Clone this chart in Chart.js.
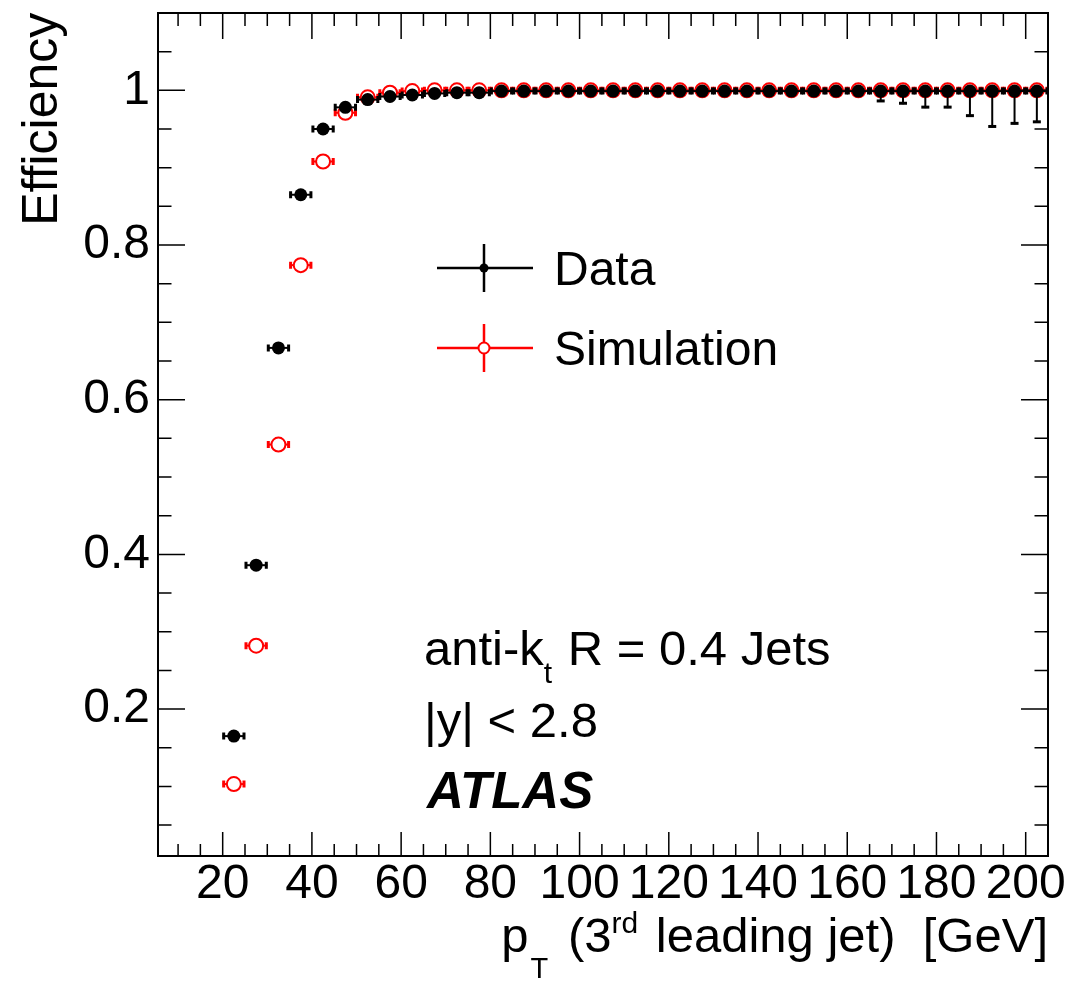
<!DOCTYPE html>
<html>
<head>
<meta charset="utf-8">
<script src="https://cdn.jsdelivr.net/npm/chart.js@4/dist/chart.umd.min.js"></script>
<style>
  html, body { margin: 0; padding: 0; background: #fff; }
  canvas { display: block; }
</style>
</head>
<body>
<canvas id="eff" width="1072" height="982"></canvas>
<script>
// bin centres (5 GeV bins) in pT of the 3rd leading jet
const binCenters = [22.5, 27.5, 32.5, 37.5, 42.5, 47.5, 52.5, 57.5, 62.5, 67.5,
  72.5, 77.5, 82.5, 87.5, 92.5, 97.5, 102.5, 107.5, 112.5, 117.5,
  122.5, 127.5, 132.5, 137.5, 142.5, 147.5, 152.5, 157.5, 162.5, 167.5,
  172.5, 177.5, 182.5, 187.5, 192.5, 197.5, 202.5];
const binHalfWidth = 2.5;

const dataEff = [0.165, 0.386, 0.667, 0.865, 0.950, 0.978, 0.988, 0.992, 0.994, 0.996,
  0.997, 0.997, 0.999, 0.999, 0.999, 0.999, 0.999, 0.999, 0.999, 0.999,
  0.999, 0.999, 0.999, 0.999, 0.999, 0.999, 0.999, 0.999, 0.999, 0.999,
  0.999, 0.999, 0.999, 0.999, 0.999, 0.999, 0.999];
// downward errors on data (upper errors are tiny, efficiency bounded by 1)
const dataErrLo = [0.004, 0.005, 0.005, 0.004, 0.003, 0.003, 0.002, 0.002, 0.002, 0.002,
  0.002, 0.002, 0.002, 0.002, 0.002, 0.002, 0.002, 0.002, 0.002, 0.002,
  0.003, 0.003, 0.003, 0.003, 0.004, 0.004, 0.005, 0.006, 0.007, 0.014,
  0.017, 0.022, 0.022, 0.033, 0.047, 0.043, 0.041];
const dataErrHi = [0.004, 0.005, 0.005, 0.004, 0.003, 0.002, 0.002, 0.002, 0.002, 0.002,
  0.002, 0.002, 0.001, 0.001, 0.001, 0.001, 0.001, 0.001, 0.001, 0.001,
  0.001, 0.001, 0.001, 0.001, 0.001, 0.001, 0.001, 0.001, 0.001, 0.001,
  0.001, 0.001, 0.001, 0.001, 0.001, 0.001, 0.001];

const simEff = [0.103, 0.282, 0.542, 0.774, 0.908, 0.971, 0.991, 0.997, 0.999, 1.0,
  1.0, 1.0, 1.0, 1.0, 1.0, 1.0, 1.0, 1.0, 1.0, 1.0,
  1.0, 1.0, 1.0, 1.0, 1.0, 1.0, 1.0, 1.0, 1.0, 1.0,
  1.0, 1.0, 1.0, 1.0, 1.0, 1.0, 1.0];

const xTickLabels = [20, 40, 60, 80, 100, 120, 140, 160, 180, 200];
const yTickLabels = [0.2, 0.4, 0.6, 0.8, 1];

const FONT = '"Liberation Sans", Arial, Helvetica, sans-serif';
const FS = 48;

// error bars, drawn under each dataset's markers
const errorBars = {
  id: 'errorBars',
  beforeDatasetDraw(chart, args) {
    const ds = chart.data.datasets[args.index];
    const x = chart.scales.x, y = chart.scales.y, ctx = chart.ctx;
    const a = chart.chartArea;
    ctx.save();
    ctx.beginPath();
    ctx.rect(a.left, a.top, a.right - a.left, a.bottom - a.top);
    ctx.clip();
    ctx.strokeStyle = ds.borderColor;
    ctx.lineWidth = 2;
    ds.data.forEach((p, i) => {
      const px = x.getPixelForValue(p.x);
      const py = y.getPixelForValue(p.y);
      const x0 = x.getPixelForValue(p.x - binHalfWidth);
      const x1 = x.getPixelForValue(p.x + binHalfWidth);
      ctx.beginPath();
      ctx.moveTo(x0, py); ctx.lineTo(x1, py);
      ctx.stroke();
      ctx.lineWidth = 3;
      ctx.beginPath();
      ctx.moveTo(x0 + 1, py - 3.5); ctx.lineTo(x0 + 1, py + 3.5);
      ctx.moveTo(x1 - 1, py - 3.5); ctx.lineTo(x1 - 1, py + 3.5);
      ctx.stroke();
      ctx.lineWidth = 2;
      if (ds.errLo) {
        const yl = y.getPixelForValue(p.y - ds.errLo[i]);
        const yh = y.getPixelForValue(p.y + ds.errHi[i]);
        ctx.beginPath();
        ctx.moveTo(px, yh); ctx.lineTo(px, yl);
        ctx.stroke();
        if (yl - py > 7) {
          ctx.lineWidth = 3;
          ctx.beginPath();
          ctx.moveTo(px - 4, yl - 1); ctx.lineTo(px + 4, yl - 1);
          ctx.stroke();
          ctx.lineWidth = 2;
        }
      }
    });
    ctx.restore();
  }
};

// ROOT style frame with inward ticks on all sides, legend and labels
const frame = {
  id: 'frame',
  afterDraw(chart) {
    const ctx = chart.ctx, a = chart.chartArea;
    const x = chart.scales.x, y = chart.scales.y;
    ctx.save();
    ctx.strokeStyle = '#000';
    ctx.lineWidth = 1.5;
    ctx.beginPath();
    for (let v = 10; v <= 200.01; v += 5) {
      const px = x.getPixelForValue(v);
      const major = Math.abs(v % 20) < 0.01;
      ctx.moveTo(px, a.bottom); ctx.lineTo(px, a.bottom - (major ? 24 : 12));
      ctx.moveTo(px, a.top); ctx.lineTo(px, a.top + (major ? 26 : 13));
    }
    for (let k = 1; k <= 22; k++) {
      const v = k * 0.05;
      const py = y.getPixelForValue(v);
      const major = k % 4 === 0;
      ctx.moveTo(a.left, py); ctx.lineTo(a.left + (major ? 27 : 13.5), py);
      ctx.moveTo(a.right, py); ctx.lineTo(a.right - (major ? 27 : 13.5), py);
    }
    ctx.stroke();
    ctx.lineWidth = 2;
    ctx.strokeRect(a.left, a.top, a.right - a.left, a.bottom - a.top);

    // legend
    const sets = chart.data.datasets;
    const legendRows = [268, 348];
    sets.forEach((ds, i) => {
      const ly = legendRows[i];
      ctx.strokeStyle = ds.borderColor;
      ctx.lineWidth = 2.5;
      ctx.beginPath();
      ctx.moveTo(437, ly); ctx.lineTo(533, ly);
      ctx.moveTo(484, ly - 24); ctx.lineTo(484, ly + 24);
      ctx.stroke();
      ctx.beginPath();
      if (ds.pointBackgroundColor === '#000') {
        ctx.fillStyle = '#000';
        ctx.arc(484, ly, 4.5, 0, Math.PI * 2);
        ctx.fill();
      } else {
        ctx.fillStyle = '#fff';
        ctx.lineWidth = 2;
        ctx.arc(484, ly, 5.5, 0, Math.PI * 2);
        ctx.fill();
        ctx.stroke();
      }
      ctx.fillStyle = '#000';
      ctx.font = FS + 'px ' + FONT;
      ctx.textAlign = 'left';
      ctx.textBaseline = 'alphabetic';
      ctx.fillText(ds.label, 554, ly + 17);
    });

    // helper for text with sub/superscripts
    function rich(parts, xStart, base, align, fs) {
      fs = fs || FS;
      const fontOf = p => (p.bold ? 'italic bold ' : '') + Math.round(fs * (p.s || 1)) + 'px ' + FONT;
      let w = 0;
      parts.forEach(p => {
        ctx.font = fontOf(p);
        w += ctx.measureText(p.t).width + (p.gap || 0);
      });
      let cx = align === 'right' ? xStart - w : xStart;
      ctx.textAlign = 'left';
      ctx.textBaseline = 'alphabetic';
      parts.forEach(p => {
        ctx.font = fontOf(p);
        ctx.fillText(p.t, cx, base + (p.dy || 0));
        cx += ctx.measureText(p.t).width + (p.gap || 0);
      });
    }
    ctx.fillStyle = '#000';
    rich([{t: 'anti-k'}, {t: 't', s: 0.62, dy: 18, gap: 2}, {t: ' R = 0.4 Jets'}], 424, 665, 'left', 49);
    rich([{t: '|y| < 2.8'}], 424, 737, 'left', 49);
    rich([{t: 'ATLAS', bold: true}], 427, 808, 'left', 51);
    rich([{t: 'p', gap: 2}, {t: 'T', s: 0.6, dy: 26, gap: 6}, {t: ' (3'}, {t: 'rd', s: 0.62, dy: -19, gap: 4},
      {t: ' leading jet)  [GeV]'}], 1048, 952, 'right', 49);

    // y axis title
    ctx.save();
    ctx.translate(57, 12.7);
    ctx.rotate(-Math.PI / 2);
    ctx.font = '50px ' + FONT;
    ctx.textAlign = 'right';
    ctx.textBaseline = 'alphabetic';
    ctx.fillText('Efficiency', 0, 0);
    ctx.restore();
    ctx.restore();
  }
};

new Chart(document.getElementById('eff'), {
  type: 'scatter',
  data: {
    datasets: [
      {
        label: 'Data',
        data: binCenters.map((v, i) => ({ x: v, y: dataEff[i] })),
        errLo: dataErrLo,
        errHi: dataErrHi,
        borderColor: '#000',
        pointBackgroundColor: '#000',
        pointBorderColor: '#000',
        pointBorderWidth: 0,
        pointRadius: 6.5
      },
      {
        label: 'Simulation',
        data: binCenters.map((v, i) => ({ x: v, y: simEff[i] })),
        borderColor: '#ff0000',
        pointBackgroundColor: '#ffffff',
        pointBorderColor: '#ff0000',
        pointBorderWidth: 2,
        pointRadius: 7
      }
    ]
  },
  options: {
    responsive: false,
    animation: false,
    layout: { padding: { top: 13, right: 24, left: 0, bottom: 0 } },
    plugins: { legend: { display: false }, tooltip: { enabled: false } },
    scales: {
      x: {
        type: 'linear', min: 5.5, max: 205,
        grid: { display: false, drawTicks: false },
        border: { display: false },
        ticks: { color: '#000', font: { family: FONT, size: FS }, padding: 0, maxRotation: 0, autoSkip: false },
        afterBuildTicks: s => { s.ticks = xTickLabels.map(v => ({ value: v })); },
        afterFit: s => { s.height = 126; s.paddingLeft = 0; s.paddingRight = 0; }
      },
      y: {
        type: 'linear', min: 0.01, max: 1.1,
        grid: { display: false, drawTicks: false },
        border: { display: false },
        ticks: { color: '#000', font: { family: FONT, size: FS }, padding: 8, callback: v => String(v) },
        afterBuildTicks: s => { s.ticks = yTickLabels.map(v => ({ value: v })); },
        afterFit: s => { s.width = 158; s.paddingTop = 0; s.paddingBottom = 0; }
      }
    }
  },
  plugins: [errorBars, frame]
});
</script>
</body>
</html>
